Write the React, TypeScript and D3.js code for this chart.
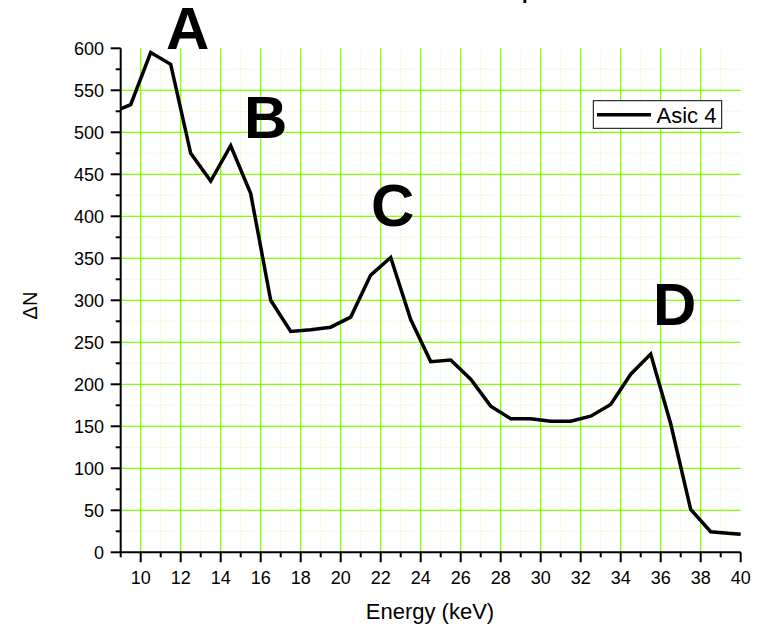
import React from "react";
import * as d3 from "d3";

const energy = [9, 9.5, 10.5, 11.5, 12.5, 13.5, 14.5, 15.5, 16.5, 17.5, 18.5, 19.5, 20.5, 21.5, 22.5, 23.5, 24.5, 25.5, 26.5, 27.5, 28.5, 29.5, 30.5, 31.5, 32.5, 33.5, 34.5, 35.5, 36.5, 37.5, 38.5, 39.5, 40];
const deltaN = [528, 533, 595, 581, 475, 442, 484, 427, 300, 263, 265, 268, 280, 330, 351, 277, 227, 229, 206, 174, 159, 159, 156, 156, 162, 176, 212, 236, 153, 51, 24.5, 22.5, 21.5];
const xTicks = [10, 12, 14, 16, 18, 20, 22, 24, 26, 28, 30, 32, 34, 36, 38, 40];
const xMinor = [9, 11, 13, 15, 17, 19, 21, 23, 25, 27, 29, 31, 33, 35, 37, 39];
const yTicks = [0, 50, 100, 150, 200, 250, 300, 350, 400, 450, 500, 550, 600];
const yMinor = [25, 75, 125, 175, 225, 275, 325, 375, 425, 475, 525, 575];
const peakLabels = ["A", "B", "C", "D"];
const peakLabelPos = [
  { x: 166, y: 49 },
  { x: 244, y: 138 },
  { x: 371, y: 226 },
  { x: 653, y: 325 },
];
const seriesName = "Asic 4";

export default function App() {
  const W = 761, H = 627;
  const x = d3.scaleLinear().domain([9, 40]).range([120.7, 740.7]);
  const y = d3.scaleLinear().domain([0, 600]).range([552.3, 48.3]);
  const line = d3.line<number>().x((_, i) => x(energy[i])).y((d) => y(d));
  const font = "'Liberation Sans', Arial, sans-serif";
  const major = "#80ff00";
  const minor = "#c8ff9a";
  const x0 = x(9), x1 = x(40), y0 = y(0), y1 = y(600);

  return (
    <svg width={W} height={H} style={{ position: "absolute", left: 0, top: 0, background: "#fff" }}>
      {/* minor grid */}
      {xMinor.filter((v) => v > 9).map((v) => (
        <line key={"xm" + v} x1={x(v)} x2={x(v)} y1={y0} y2={y1} stroke={minor} strokeWidth={1} strokeDasharray="1,2" />
      ))}
      {yMinor.map((v) => (
        <line key={"ym" + v} x1={x0} x2={x1} y1={y(v)} y2={y(v)} stroke={minor} strokeWidth={1} strokeDasharray="1,2" />
      ))}
      {/* major grid */}
      {xTicks.filter((v) => v < 40).map((v) => (
        <line key={"xg" + v} x1={x(v)} x2={x(v)} y1={y0} y2={y1} stroke={major} strokeWidth={1.3} />
      ))}
      {yTicks.filter((v) => v > 0 && v < 600).map((v) => (
        <line key={"yg" + v} x1={x0} x2={x1} y1={y(v)} y2={y(v)} stroke={major} strokeWidth={1.3} />
      ))}

      {/* data line */}
      <path d={line(deltaN) || ""} fill="none" stroke="#000" strokeWidth={3.5} strokeLinejoin="miter" />

      {/* axes */}
      <line x1={x0} x2={x1} y1={y0} y2={y0} stroke="#000" strokeWidth={2} />
      <line x1={x0} x2={x0} y1={y0} y2={y1} stroke="#000" strokeWidth={2} />
      {xTicks.map((v) => (
        <g key={"xt" + v}>
          <line x1={x(v)} x2={x(v)} y1={y0} y2={y0 + 10} stroke="#000" strokeWidth={2} />
          <text x={x(v)} y={583.5} textAnchor="middle" fontFamily={font} fontSize={18} fill="#000">{v}</text>
        </g>
      ))}
      {xMinor.map((v) => (
        <line key={"xmt" + v} x1={x(v)} x2={x(v)} y1={y0} y2={y0 + 5} stroke="#000" strokeWidth={2} />
      ))}
      {yTicks.map((v) => (
        <g key={"yt" + v}>
          <line x1={x0 - 10} x2={x0} y1={y(v)} y2={y(v)} stroke="#000" strokeWidth={2} />
          <text x={104} y={y(v) + 6.5} textAnchor="end" fontFamily={font} fontSize={18} fill="#000">{v}</text>
        </g>
      ))}
      {yMinor.map((v) => (
        <line key={"ymt" + v} x1={x0 - 5} x2={x0} y1={y(v)} y2={y(v)} stroke="#000" strokeWidth={2} />
      ))}

      {/* axis titles */}
      <text x={430} y={619} textAnchor="middle" fontFamily={font} fontSize={22} fill="#000">Energy (keV)</text>
      <text transform="translate(37,305.5) rotate(-90)" textAnchor="middle" fontFamily={font} fontSize={20} fill="#000">ΔN</text>

      {/* cut-off title descender */}
      <text x={522} y={-1} fontFamily={font} fontSize={20} fontWeight="bold" fill="#000">p</text>

      {/* peak labels */}
      {peakLabels.map((t, i) => (
        <text key={t} x={peakLabelPos[i].x} y={peakLabelPos[i].y} fontFamily={font} fontSize={60} fontWeight="bold" fill="#000">{t}</text>
      ))}

      {/* legend */}
      <rect x={593.3} y={100.7} width={128.4} height={27.6} fill="#fff" stroke="#000" strokeWidth={1} />
      <line x1={597} x2={651} y1={114.7} y2={114.7} stroke="#000" strokeWidth={3.5} />
      <text x={656.5} y={122.7} fontFamily={font} fontSize={22} fill="#000">{seriesName}</text>
    </svg>
  );
}
